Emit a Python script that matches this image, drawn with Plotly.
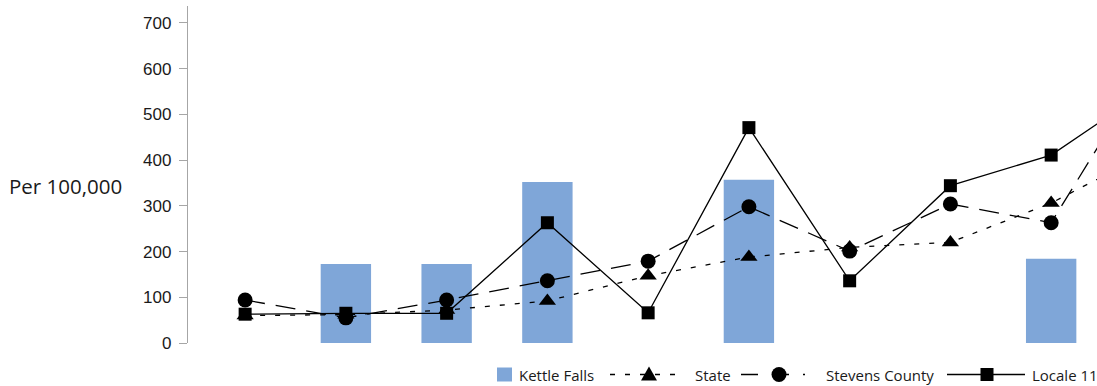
import plotly.graph_objects as go

categories = ["1", "2", "3", "4", "5", "6", "7", "8", "9", "10"]
kettle_falls = [None, 173, 173, 352, None, 357, None, None, 184, None]
state = [60, 62, 72, 92, 147, 188, 209, 220, 306, 420]
stevens_county = [94, 55, 94, 136, 179, 298, 201, 304, 263, 620]
locale_11 = [63, 65, 65, 263, 66, 471, 136, 344, 411, 560]
y_ticks = [0, 100, 200, 300, 400, 500, 600, 700]

BAR_COLOR = "#7fa6d8"
TEXT_COLOR = "#1a1a1a"
PLOT_LEFT = 188  # px
LEG_Y = -31.5    # px offset from plot bottom (upward positive)
STATE_DASH = "5px,10px"
STEVENS_DASH = "20px,11px"

fig = go.Figure()
fig.add_trace(go.Bar(
    x=categories, y=kettle_falls, name="Kettle Falls", showlegend=False,
    marker=dict(color=BAR_COLOR, line=dict(width=0)), width=0.5,
))
fig.add_trace(go.Scatter(
    x=categories, y=state, name="State", mode="lines+markers", showlegend=False,
    line=dict(color="black", width=1.3, dash=STATE_DASH),
    marker=dict(symbol="triangle-up", size=15, color="black"),
))
fig.add_trace(go.Scatter(
    x=categories, y=stevens_county, name="Stevens County", mode="lines+markers", showlegend=False,
    line=dict(color="black", width=1.3, dash=STEVENS_DASH),
    marker=dict(symbol="circle", size=15, color="black"),
))
fig.add_trace(go.Scatter(
    x=categories, y=locale_11, name="Locale 11", mode="lines+markers", showlegend=False,
    line=dict(color="black", width=1.3),
    marker=dict(symbol="square", size=13, color="black"),
))

# ---- custom legend (pixel-positioned shapes + text) ----
def px_shape(**kw):
    base = dict(xref="paper", yref="paper", xsizemode="pixel", ysizemode="pixel",
                xanchor=0, yanchor=0, layer="above")
    base.update(kw)
    return base

def lx(px):
    return px - PLOT_LEFT

shapes = []
shapes.append(px_shape(type="rect", x0=lx(497), x1=lx(512), y0=LEG_Y - 7, y1=LEG_Y + 7,
                       fillcolor=BAR_COLOR, line=dict(width=0)))
shapes.append(px_shape(type="line", x0=lx(610), x1=lx(680), y0=LEG_Y, y1=LEG_Y,
                       line=dict(color="black", width=1.3, dash=STATE_DASH)))
cx = lx(649)
shapes.append(px_shape(type="path",
                       path=f"M {cx-8},{LEG_Y-6} L {cx+8},{LEG_Y-6} L {cx},{LEG_Y+8} Z",
                       fillcolor="black", line=dict(width=0)))
shapes.append(px_shape(type="line", x0=lx(741), x1=lx(805), y0=LEG_Y, y1=LEG_Y,
                       line=dict(color="black", width=1.3, dash="17px,14px")))
cx = lx(779)
shapes.append(px_shape(type="circle", x0=cx - 7.5, x1=cx + 7.5, y0=LEG_Y - 7.5, y1=LEG_Y + 7.5,
                       fillcolor="black", line=dict(width=0)))
shapes.append(px_shape(type="line", x0=lx(947), x1=lx(1025), y0=LEG_Y, y1=LEG_Y,
                       line=dict(color="black", width=1.3)))
cx = lx(987)
shapes.append(px_shape(type="rect", x0=cx - 6.5, x1=cx + 6.5, y0=LEG_Y - 6.5, y1=LEG_Y + 6.5,
                       fillcolor="black", line=dict(width=0)))

legend_labels = ["Kettle Falls", "State", "Stevens County", "Locale 11"]
legend_text_x = [517, 693, 824, 1030]
annotations = []
for label, tx in zip(legend_labels, legend_text_x):
    annotations.append(dict(
        text=label, xref="paper", yref="paper", x=0, y=0, xanchor="left", yanchor="middle",
        xshift=tx - PLOT_LEFT, yshift=LEG_Y, showarrow=False,
        font=dict(family="Open Sans, sans-serif", size=15, color=TEXT_COLOR),
    ))
annotations.append(dict(
    text="Per 100,000", xref="paper", yref="paper", x=0, y=0.465,
    xanchor="right", yanchor="middle", xshift=-64, showarrow=False,
    font=dict(family="Open Sans, sans-serif", size=20.5, color=TEXT_COLOR),
))

fig.update_layout(
    width=1097, height=386,
    margin=dict(l=PLOT_LEFT, r=0, t=6, b=43, autoexpand=False),
    paper_bgcolor="white", plot_bgcolor="white",
    font=dict(family="Liberation Sans, Arial, sans-serif", size=17, color=TEXT_COLOR),
    showlegend=False,
    xaxis=dict(
        type="category", range=[-0.567, 8.455], showline=False, showticklabels=False,
        ticks="", showgrid=False, zeroline=False, fixedrange=True,
    ),
    yaxis=dict(
        range=[0, 737], tickvals=y_ticks, showline=True, linecolor="#a6a6a6", linewidth=1.3,
        ticks="outside", ticklen=8, tickcolor="#a6a6a6", tickwidth=1.3,
        showgrid=False, zeroline=False, ticklabelstandoff=4,
    ),
    shapes=shapes,
    annotations=annotations,
)

fig.write_html("out.html", config={"displayModeBar": False},
               post_script="document.body.style.margin='0';")
